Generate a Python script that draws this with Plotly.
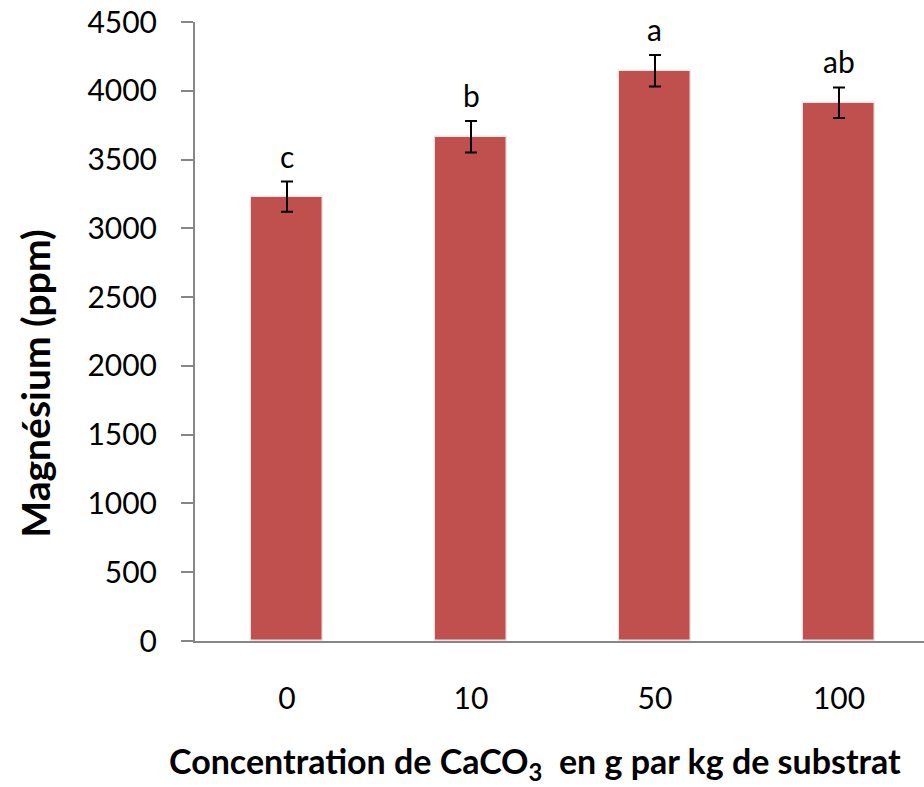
import plotly.graph_objects as go

categories = ["0", "10", "50", "100"]
magnesium = [3230, 3666, 4146, 3913]
errors = [110, 114, 115, 111]
letters = ["c", "b", "a", "ab"]
y_ticks = [0, 500, 1000, 1500, 2000, 2500, 3000, 3500, 4000, 4500]

FONT = "Lato"
x_idx = list(range(len(categories)))

fig = go.Figure()
fig.add_trace(go.Bar(
    x=x_idx, y=magnesium, width=0.39,
    marker=dict(color="#C0504D", line=dict(color="#E6E6E6", width=1.5)),
    error_y=dict(type="data", array=errors, visible=True, color="black",
                 thickness=2, width=6),
    showlegend=False,
))

for i, (v, e, t) in enumerate(zip(magnesium, errors, letters)):
    fig.add_annotation(x=i, y=v + e, text=t, showarrow=False, yanchor="bottom",
                       yshift=6, font=dict(family=FONT, size=30, color="black"))

# axis titles (placed as in the reference)
fig.add_annotation(xref="paper", yref="paper", x=0.4664, y=-0.197,
                   xanchor="center", yanchor="middle", showarrow=False,
                   text="<b>Concentration de CaCO<sub>3</sub>  en g par kg de substrat</b>",
                   font=dict(family=FONT, size=34, color="black"))
fig.add_annotation(xref="paper", yref="paper", x=-0.2195, y=0.4157,
                   xanchor="center", yanchor="middle", showarrow=False,
                   textangle=-90, text="<b>Magnésium (ppm)</b>",
                   font=dict(family=FONT, size=39, color="black"))

fig.update_layout(
    width=924, height=787,
    margin=dict(l=195, r=0, t=22, b=145.5),
    paper_bgcolor="white", plot_bgcolor="white",
    font=dict(family=FONT, color="black"),
    bargap=0,
)
fig.update_xaxes(
    range=[-0.5, 3.462], tickmode="array", tickvals=x_idx, ticktext=categories,
    showline=True, linecolor="#868686", linewidth=2, ticks="", showgrid=False,
    zeroline=False, tickfont=dict(family=FONT, size=30, color="black"),
    ticklabelstandoff=30,
)
fig.update_yaxes(
    range=[0, 4500], tickmode="array", tickvals=y_ticks,
    showline=True, linecolor="#868686", linewidth=2, ticks="outside",
    ticklen=12, tickwidth=2, tickcolor="#868686", showgrid=False, zeroline=False,
    tickfont=dict(family=FONT, size=30, color="black"),
    ticklabelstandoff=18,
)

fig.write_html("out.html")
